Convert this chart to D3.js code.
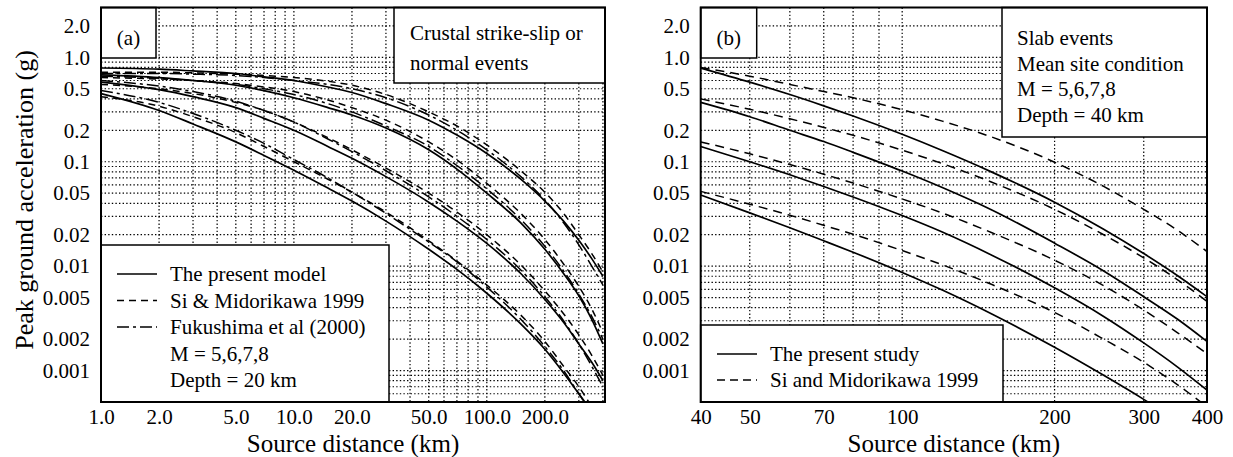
<!DOCTYPE html>
<html>
<head>
<meta charset="utf-8">
<script src="https://cdn.jsdelivr.net/npm/d3@7"></script>
<style>
  body { margin: 0; background: #fff; }
  text { font-family: "Liberation Serif", "Times New Roman", serif; fill: #000; }
</style>
</head>
<body>
<div class="chart"></div>
<script>
// magnitudes drawn in both panels (M = 5,6,7,8)
var magnitudes = [5, 6, 7, 8];

// ---- panel (a): crustal strike-slip or normal events ----
var distA = [1, 2, 3, 5, 7, 10, 15, 20, 30, 50, 70, 100, 150, 200, 250, 300, 350, 400];

// the present model (solid), one row per magnitude 5..8
var presentA = [
    [0.45, 0.31, 0.23, 0.155, 0.115, 0.083, 0.056, 0.042, 0.027, 0.0145, 0.0093, 0.0055, 0.0028, 0.0016, 0.00095, 0.0006, 0.0004, 0.00026],
    [0.58, 0.49, 0.42, 0.33, 0.26, 0.20, 0.14, 0.108, 0.072, 0.041, 0.027, 0.0165, 0.0085, 0.0048, 0.0029, 0.0018, 0.0012, 0.0008],
    [0.68, 0.64, 0.60, 0.54, 0.48, 0.41, 0.33, 0.28, 0.21, 0.13, 0.085, 0.05, 0.026, 0.0145, 0.0085, 0.0052, 0.0031, 0.0018],
    [0.79, 0.77, 0.74, 0.70, 0.65, 0.60, 0.52, 0.46, 0.36, 0.25, 0.18, 0.12, 0.068, 0.042, 0.027, 0.0177, 0.0118, 0.008]
];

// Si & Midorikawa 1999 (dashed)
var siMidoriA = [
    [0.42, 0.34, 0.27, 0.19, 0.14, 0.10, 0.068, 0.051, 0.033, 0.0175, 0.0112, 0.0066, 0.0034, 0.0019, 0.0011, 0.0007, 0.00045, 0.0003],
    [0.55, 0.50, 0.45, 0.37, 0.31, 0.24, 0.17, 0.13, 0.087, 0.05, 0.033, 0.02, 0.0103, 0.0058, 0.0035, 0.0022, 0.0014, 0.0009],
    [0.64, 0.62, 0.60, 0.56, 0.52, 0.47, 0.39, 0.33, 0.25, 0.155, 0.104, 0.062, 0.032, 0.018, 0.0105, 0.0064, 0.0039, 0.0023],
    [0.72, 0.72, 0.71, 0.69, 0.67, 0.64, 0.59, 0.54, 0.44, 0.30, 0.22, 0.145, 0.082, 0.051, 0.032, 0.02, 0.0132, 0.0088]
];

// Fukushima et al (2000) (dash-dot)
var fukushimaA = [
    [0.48, 0.37, 0.29, 0.20, 0.15, 0.105, 0.07, 0.051, 0.032, 0.017, 0.011, 0.0063, 0.0031, 0.0017, 0.001, 0.0006, 0.00038, 0.00024],
    [0.60, 0.53, 0.47, 0.38, 0.31, 0.24, 0.165, 0.125, 0.082, 0.046, 0.030, 0.018, 0.0092, 0.0051, 0.003, 0.0018, 0.0011, 0.0007],
    [0.66, 0.63, 0.60, 0.55, 0.50, 0.44, 0.36, 0.30, 0.22, 0.14, 0.092, 0.055, 0.028, 0.0155, 0.009, 0.0054, 0.0033, 0.002],
    [0.70, 0.70, 0.69, 0.67, 0.64, 0.60, 0.55, 0.50, 0.41, 0.28, 0.20, 0.13, 0.072, 0.043, 0.026, 0.016, 0.010, 0.0066]
];

// ---- panel (b): slab events ----
var distB = [40, 50, 60, 70, 80, 100, 120, 150, 200, 250, 300, 350, 400];

// the present study (solid)
var presentB = [
    [0.048, 0.0324, 0.0233, 0.0175, 0.0136, 0.0087, 0.0059, 0.0035, 0.00167, 0.0009, 0.00053, 0.00033, 0.0002],
    [0.14, 0.10, 0.075, 0.058, 0.046, 0.0305, 0.0212, 0.0128, 0.0062, 0.0033, 0.00184, 0.00108, 0.00065],
    [0.37, 0.27, 0.20, 0.156, 0.123, 0.0814, 0.0566, 0.0347, 0.0166, 0.009, 0.0051, 0.0031, 0.0019],
    [0.79, 0.578, 0.44, 0.343, 0.274, 0.183, 0.128, 0.080, 0.041, 0.0226, 0.0132, 0.0081, 0.0051]
];

// Si and Midorikawa 1999 (dashed)
var siMidoriB = [
    [0.052, 0.0392, 0.0307, 0.0246, 0.0202, 0.0141, 0.0103, 0.0067, 0.0036, 0.002, 0.0012, 0.00073, 0.00045],
    [0.155, 0.119, 0.094, 0.076, 0.0625, 0.044, 0.0323, 0.021, 0.0114, 0.0065, 0.0038, 0.0023, 0.00145],
    [0.40, 0.318, 0.258, 0.213, 0.179, 0.129, 0.096, 0.064, 0.035, 0.020, 0.012, 0.0074, 0.0046],
    [0.80, 0.66, 0.55, 0.47, 0.41, 0.315, 0.245, 0.173, 0.099, 0.058, 0.035, 0.022, 0.0138]
];

// tick labels
var yTicks = [2, 1, 0.5, 0.2, 0.1, 0.05, 0.02, 0.01, 0.005, 0.002, 0.001];
var yTickLabels = ["2.0", "1.0", "0.5", "0.2", "0.1", "0.05", "0.02", "0.01", "0.005", "0.002", "0.001"];
var xTicksA = [1, 2, 5, 10, 20, 50, 100, 200];
var xTickLabelsA = ["1.0", "2.0", "5.0", "10.0", "20.0", "50.0", "100.0", "200.0"];
var xTicksB = [40, 50, 70, 100, 200, 300, 400];
var xTickLabelsB = ["40", "50", "70", "100", "200", "300", "400"];

var svgWidth = 1233;
var svgHeight = 457;

var svg = d3.select(".chart")
    .append("svg")
    .attr("width", svgWidth)
    .attr("height", svgHeight);

var plotTop = 7.5;
var plotHeight = 394.5;

var yScale = d3.scaleLog()
    .domain([0.0005, 3])
    .range([plotHeight, 0]);

// log grid values 1..9 x 10^n inside a domain
function logGrid(lo, hi) {
    var out = [];
    for (var e = -4; e <= 3; e++) {
        for (var k = 1; k <= 9; k++) {
            var v = k * Math.pow(10, e);
            if (v > lo * 1.0001 && v < hi * 0.9999) out.push(+v.toPrecision(3));
        }
    }
    return out;
}

function drawPanel(opt) {
    var g = svg.append("g")
        .attr("transform", `translate(${opt.left}, ${plotTop})`);
    var w = opt.width;
    var x = opt.xScale;

    g.append("clipPath").attr("id", "clip-" + opt.id)
        .append("rect").attr("width", w).attr("height", plotHeight);

    // dotted grid
    var grid = g.append("g")
        .attr("stroke", "#000")
        .attr("stroke-width", 1.2)
        .attr("stroke-dasharray", "1.4,2.2");
    grid.selectAll("line.h")
        .data(logGrid(0.0005, 3))
        .enter().append("line")
        .attr("x1", 0).attr("x2", w)
        .attr("y1", d => yScale(d)).attr("y2", d => yScale(d));
    grid.selectAll("line.v")
        .data(logGrid(x.domain()[0], x.domain()[1]))
        .enter().append("line")
        .attr("y1", 0).attr("y2", plotHeight)
        .attr("x1", d => x(d)).attr("x2", d => x(d));

    // curves
    var line = d3.line()
        .x(d => x(d[0]))
        .y(d => yScale(d[1]))
        .curve(d3.curveMonotoneX);

    var curves = g.append("g").attr("clip-path", `url(#clip-${opt.id})`);
    opt.series.forEach(function (s) {
        s.values.forEach(function (row) {
            curves.append("path")
                .datum(opt.dist.map((d, i) => [d, row[i]]))
                .attr("d", line)
                .attr("fill", "none")
                .attr("stroke", "#000")
                .attr("stroke-width", s.width)
                .attr("stroke-dasharray", s.dash);
        });
    });

    // axes (labels only, frame drawn separately)
    var yAxis = d3.axisLeft(yScale)
        .tickValues(yTicks)
        .tickFormat((d, i) => yTickLabels[i])
        .tickSize(0)
        .tickPadding(11);
    g.append("g").call(yAxis)
        .call(a => a.select(".domain").remove())
        .selectAll("text")
        .attr("font-size", 21)
        .attr("font-family", "Liberation Serif, serif");

    var xAxis = d3.axisBottom(x)
        .tickValues(opt.xTicks)
        .tickFormat((d, i) => opt.xLabels[i])
        .tickSize(0)
        .tickPadding(7.5);
    g.append("g")
        .attr("transform", `translate(0, ${plotHeight})`)
        .call(xAxis)
        .call(a => a.select(".domain").remove())
        .selectAll("text")
        .attr("font-size", 21)
        .attr("font-family", "Liberation Serif, serif");

    // x axis title
    g.append("text")
        .attr("x", w / 2)
        .attr("y", 451.5 - plotTop)
        .attr("text-anchor", "middle")
        .attr("font-size", 25)
        .text("Source distance (km)");

    // boxes
    opt.boxes.forEach(function (b) {
        g.append("rect")
            .attr("x", b.x).attr("y", b.y)
            .attr("width", b.w).attr("height", b.h)
            .attr("fill", "#fff")
            .attr("stroke", "#000")
            .attr("stroke-width", 1.5);
        b.lines.forEach(function (t, i) {
            g.append("text")
                .attr("x", b.tx)
                .attr("y", b.ty + i * b.dy)
                .attr("text-anchor", b.anchor || "start")
                .attr("font-size", 21)
                .text(t);
        });
        (b.samples || []).forEach(function (s, i) {
            g.append("line")
                .attr("x1", b.sx).attr("x2", b.sx + 40)
                .attr("y1", b.ty + i * b.dy - 7).attr("y2", b.ty + i * b.dy - 7)
                .attr("stroke", "#000")
                .attr("stroke-width", s.width)
                .attr("stroke-dasharray", s.dash);
        });
    });

    // frame
    g.append("rect")
        .attr("width", w).attr("height", plotHeight)
        .attr("fill", "none")
        .attr("stroke", "#000")
        .attr("stroke-width", 2);
    return g;
}

var solid = { width: 1.7, dash: null };
var dashed = { width: 1.5, dash: "7,5" };
var dashDot = { width: 1.5, dash: "12,4,3,4" };

// panel (a)
var xScaleA = d3.scaleLog().domain([1, 410]).range([0, 504]);
drawPanel({
    id: "a", left: 101, width: 504, xScale: xScaleA, dist: distA,
    xTicks: xTicksA, xLabels: xTickLabelsA,
    series: [
        { values: presentA, width: solid.width, dash: solid.dash },
        { values: siMidoriA, width: dashed.width, dash: dashed.dash },
        { values: fukushimaA, width: dashDot.width, dash: dashDot.dash }
    ],
    boxes: [
        { x: 0, y: 0, w: 55, h: 50.5, tx: 27.5, ty: 37.5, dy: 0, anchor: "middle", lines: ["(a)"] },
        { x: 293, y: 0, w: 211, h: 75.5, tx: 309, ty: 32.5, dy: 30, lines: ["Crustal strike-slip or", "normal events"] },
        { x: 0, y: 237.5, w: 288, h: 157, tx: 69, ty: 273.5, dy: 26.5, sx: 16,
          lines: ["The present model", "Si & Midorikawa 1999", "Fukushima et al (2000)", "M = 5,6,7,8", "Depth = 20 km"],
          samples: [solid, dashed, dashDot] }
    ]
});

// panel (b)
var xScaleB = d3.scaleLog().domain([40, 400]).range([0, 506.3]);
drawPanel({
    id: "b", left: 700.7, width: 506.3, xScale: xScaleB, dist: distB,
    xTicks: xTicksB, xLabels: xTickLabelsB,
    series: [
        { values: presentB, width: solid.width, dash: solid.dash },
        { values: siMidoriB, width: dashed.width, dash: "9,6" }
    ],
    boxes: [
        { x: 0, y: 0, w: 56, h: 50.5, tx: 28, ty: 37.5, dy: 0, anchor: "middle", lines: ["(b)"] },
        { x: 301.3, y: 0, w: 205, h: 129.5, tx: 316.3, ty: 37.5, dy: 25.7,
          lines: ["Slab events", "Mean site condition", "M = 5,6,7,8", "Depth = 40 km"] },
        { x: 0, y: 317.5, w: 302.3, h: 77, tx: 69.3, ty: 353.5, dy: 26, sx: 16.3,
          lines: ["The present study", "Si and Midorikawa 1999"],
          samples: [solid, { width: 1.5, dash: "8,5" }] }
    ]
});

// y axis title, panel (a) only
svg.append("text")
    .attr("transform", "translate(33, 200) rotate(-90)")
    .attr("text-anchor", "middle")
    .attr("font-size", 26)
    .text("Peak ground acceleration (g)");
</script>
</body>
</html>
